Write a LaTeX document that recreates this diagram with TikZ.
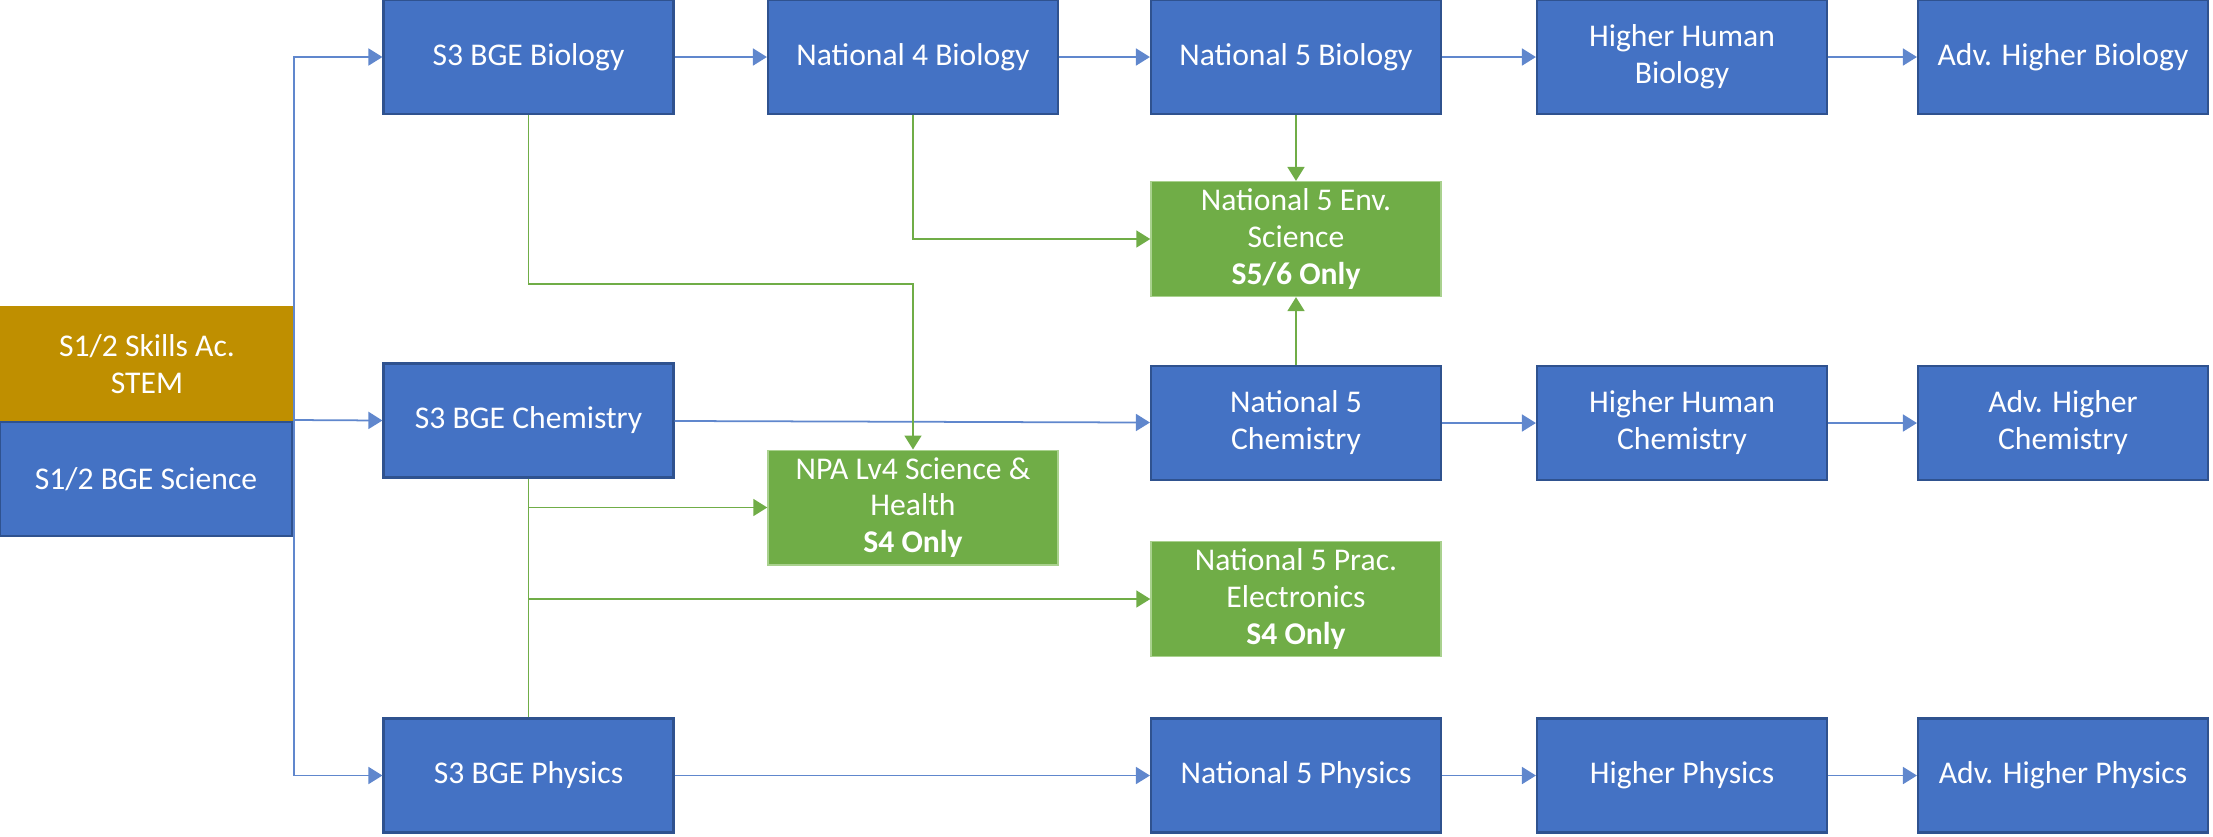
\documentclass[tikz,border=0pt]{standalone}
\usepackage{fontspec}
\setmainfont{Carlito}
\usetikzlibrary{arrows.meta}

\definecolor{officeblue}{HTML}{4472C4}
\definecolor{officeblueline}{HTML}{2F528F}
\definecolor{officegreen}{HTML}{70AD47}
\definecolor{officegreenline}{HTML}{A9D18E}
\definecolor{officegold}{HTML}{BF8F00}

\tikzset{
    box/.style={minimum width=2.9cm, minimum height=1.14cm, inner sep=2pt, align=center,
        text=white, font=\fontsize{9}{10.5}\selectfont},
    bluebox/.style={box, fill=officeblue, draw=officeblueline, line width=0.6pt},
    greenbox/.style={box, fill=officegreen, draw=officegreenline, line width=0.4pt},
    goldbox/.style={box, fill=officegold},
    bluearrow/.style={draw=officeblue!85, line width=0.5pt, -{Triangle[length=1.4mm,width=1.7mm]}},
    greenarrow/.style={draw=officegreen, line width=0.5pt, -{Triangle[length=1.4mm,width=1.7mm]}},
    greenline/.style={draw=officegreen, line width=0.5pt}
}

\begin{document}
\begin{tikzpicture}
    \useasboundingbox (0,0) rectangle (22.13,-8.36);

    \node[goldbox, minimum width=2.94cm, minimum height=1.16cm] (skills) at (1.47,-3.64) {S1/2 Skills Ac.\\STEM};
    \node[bluebox, minimum width=2.92cm] (sci) at (1.46,-4.79) {S1/2 BGE Science};

    \node[bluebox] (bio) at (5.285,-0.57) {S3 BGE Biology};
    \node[bluebox] (chem) at (5.285,-4.205) {S3 BGE Chemistry};
    \node[bluebox] (phys) at (5.285,-7.755) {S3 BGE Physics};

    \node[bluebox] (n4bio) at (9.13,-0.57) {National 4 Biology};
    \node[bluebox] (n5bio) at (12.96,-0.57) {National 5 Biology};
    \node[bluebox] (hbio) at (16.82,-0.57) {Higher Human\\Biology};
    \node[bluebox] (abio) at (20.63,-0.57) {Adv. Higher Biology};

    \node[greenbox] (env) at (12.96,-2.39) {National 5 Env.\\Science\\\textbf{S5/6 Only}};

    \node[bluebox] (n5chem) at (12.96,-4.23) {National 5\\Chemistry};
    \node[bluebox] (hchem) at (16.82,-4.23) {Higher Human\\Chemistry};
    \node[bluebox] (achem) at (20.63,-4.23) {Adv. Higher\\Chemistry};

    \node[greenbox] (npa) at (9.13,-5.075) {NPA Lv4 Science \&\\Health\\\textbf{S4 Only}};
    \node[greenbox] (elec) at (12.96,-5.99) {National 5 Prac.\\Electronics\\\textbf{S4 Only}};

    \node[bluebox] (n5phys) at (12.96,-7.755) {National 5 Physics};
    \node[bluebox] (hphys) at (16.82,-7.755) {Higher Physics};
    \node[bluebox] (aphys) at (20.63,-7.755) {Adv. Higher Physics};

    % S1/2 into S3
    \coordinate (fork) at (2.94,-4.2);
    \draw[bluearrow] (fork) |- (bio.west);
    \draw[bluearrow] (fork) -- (chem.west);
    \draw[bluearrow] (fork) |- (phys.west);

    % main routes
    \draw[bluearrow] (bio) -- (n4bio);
    \draw[bluearrow] (n4bio) -- (n5bio);
    \draw[bluearrow] (n5bio) -- (hbio);
    \draw[bluearrow] (hbio) -- (abio);

    \draw[bluearrow] (chem) -- (n5chem);
    \draw[bluearrow] (n5chem) -- (hchem);
    \draw[bluearrow] (hchem) -- (achem);

    \draw[bluearrow] (phys) -- (n5phys);
    \draw[bluearrow] (n5phys) -- (hphys);
    \draw[bluearrow] (hphys) -- (aphys);

    % other courses
    \draw[greenarrow] (n5bio) -- (env);
    \draw[greenarrow] (n5chem) -- (env);
    \draw[greenarrow] (n4bio.south) |- (env.west);
    \draw[greenarrow] (bio.south) -- ++(0,-1.69) -| (npa.north);
    \draw[greenline] (chem.south) -- (phys.north);
    \draw[greenarrow] (chem.south) |- (npa.west);
    \draw[greenarrow] (phys.north) |- (elec.west);
\end{tikzpicture}
\end{document}
